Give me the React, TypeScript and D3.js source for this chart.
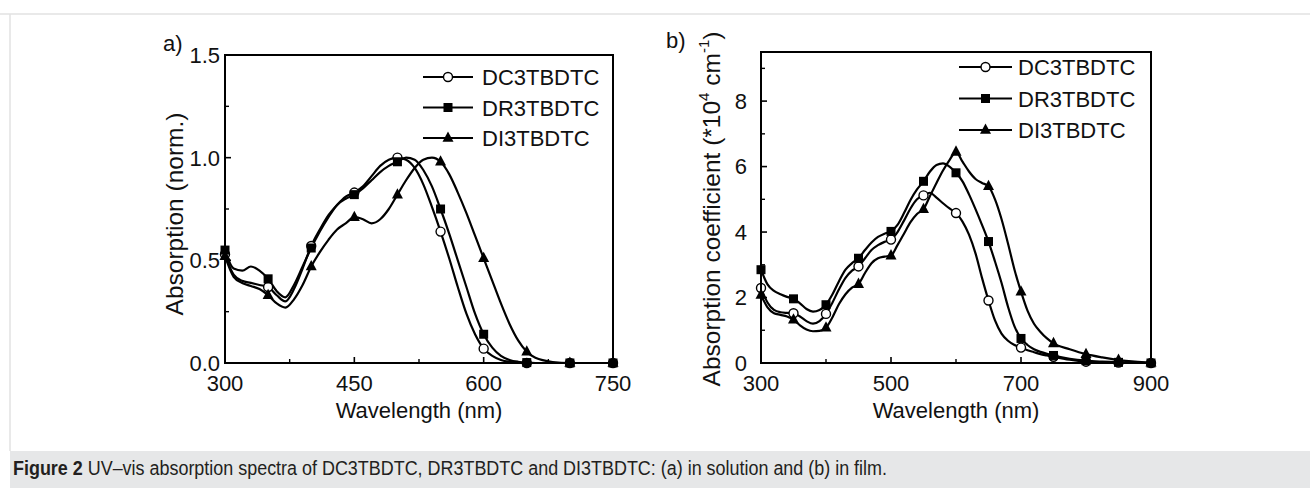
import React from "react";
import * as d3 from "d3";

// ---------- data: (a) solution ----------
const gridA = [300,310,320,330,340,350,360,370,380,390,400,410,420,430,440,450,460,470,480,490,500,510,520,530,540,550,560,570,580,590,600,610,620,630,640,650,660,680,700,725,750];
const dcA = [0.53,0.43,0.40,0.39,0.38,0.37,0.33,0.30,0.36,0.46,0.57,0.65,0.72,0.77,0.81,0.83,0.86,0.91,0.96,0.99,1.00,0.99,0.95,0.87,0.76,0.64,0.51,0.37,0.24,0.14,0.07,0.035,0.015,0.006,0.002,0,0,0,0,0,0];
const drA = [0.55,0.46,0.45,0.47,0.45,0.41,0.35,0.32,0.38,0.47,0.56,0.64,0.71,0.77,0.80,0.82,0.85,0.89,0.93,0.96,0.98,1.00,0.99,0.94,0.86,0.75,0.63,0.50,0.37,0.24,0.14,0.075,0.035,0.015,0.006,0.002,0,0,0,0,0];
const diA = [0.52,0.42,0.39,0.375,0.36,0.33,0.29,0.27,0.31,0.38,0.47,0.54,0.60,0.65,0.68,0.71,0.70,0.68,0.70,0.75,0.82,0.89,0.95,0.99,1.00,0.98,0.92,0.83,0.73,0.62,0.51,0.40,0.29,0.19,0.11,0.055,0.025,0.005,0,0,0];
const markersA = [300,350,400,450,500,550,600,650,700,750];
const xTicksA = [300,450,600,750];
const xMinorA = [375,525,675];
const yTicksA = [0,0.5,1.0,1.5];
const yMinorA = [0.25,0.75,1.25];

// ---------- data: (b) film ----------
const gridB = [300,310,320,330,340,350,360,370,380,390,400,410,420,430,440,450,460,470,480,490,500,510,520,530,540,550,560,570,580,590,600,610,620,630,640,650,660,670,680,690,700,710,720,730,740,750,775,800,825,850,875,900];
const dcB = [2.29,1.85,1.62,1.55,1.53,1.52,1.42,1.28,1.20,1.28,1.50,1.85,2.25,2.60,2.82,2.95,3.20,3.45,3.60,3.70,3.77,4.00,4.35,4.72,5.00,5.12,5.20,5.05,4.88,4.72,4.58,4.32,3.92,3.35,2.60,1.91,1.30,0.90,0.68,0.55,0.47,0.39,0.33,0.27,0.23,0.19,0.10,0.04,0.02,0.01,0,0];
const drB = [2.85,2.40,2.20,2.10,2.02,1.96,1.82,1.65,1.57,1.62,1.78,2.10,2.50,2.85,3.05,3.20,3.45,3.68,3.85,3.95,4.02,4.22,4.58,4.98,5.30,5.55,5.85,6.05,6.10,6.00,5.81,5.55,5.15,4.70,4.22,3.71,3.10,2.45,1.72,1.12,0.75,0.55,0.42,0.34,0.28,0.23,0.13,0.07,0.04,0.02,0.01,0];
const diB = [2.08,1.70,1.52,1.47,1.42,1.32,1.15,1.02,0.97,0.98,1.08,1.40,1.80,2.10,2.30,2.41,2.75,3.05,3.20,3.25,3.28,3.60,3.95,4.30,4.55,4.70,5.10,5.50,5.88,6.20,6.45,6.15,5.85,5.62,5.50,5.40,5.00,4.40,3.65,2.85,2.18,1.60,1.20,0.95,0.75,0.60,0.42,0.27,0.17,0.09,0.04,0.01];
const markersB = [300,350,400,450,500,550,600,650,700,750,800,850,900];
const xTicksB = [300,500,700,900];
const xMinorB = [400,600,800];
const yTicksB = [0,2,4,6,8];
const yMinorB = [1,3,5,7,9];

const seriesNames = ["DC3TBDTC", "DR3TBDTC", "DI3TBDTC"];
const seriesShapes = ["circle", "square", "triangle"];

const FONT = "'Liberation Sans', Arial, Helvetica, sans-serif";

function Marker({ shape, x, y }: { shape: string; x: number; y: number }) {
  if (shape === "circle")
    return <circle cx={x} cy={y} r={4.5} fill="#fff" stroke="#000" strokeWidth={1.4} />;
  if (shape === "square")
    return <rect x={x - 4.5} y={y - 4.5} width={9} height={9} fill="#000" />;
  return <path d={`M${x},${y - 6.5}L${x + 5.5},${y + 3.8}L${x - 5.5},${y + 3.8}Z`} fill="#000" />;
}

type PanelProps = {
  x: d3.ScaleLinear<number, number>;
  y: d3.ScaleLinear<number, number>;
  grid: number[];
  values: number[][];
  markers: number[];
  xTicks: number[];
  xMinor: number[];
  yTicks: number[];
  yMinor: number[];
  yFmt: (v: number) => string;
  yGap: number;
  legend: { x1: number; x2: number; tx: number; y0: number; step: number };
};

function Panel(p: PanelProps) {
  const [x0, x1] = p.x.range();
  const [y0, y1] = p.y.range();
  const line = d3
    .line<number>()
    .x((_, i) => p.x(p.grid[i]))
    .y((v) => p.y(v))
    .curve(d3.curveMonotoneX);
  return (
    <g>
      {p.values.map((vals, si) => (
        <path key={"l" + si} d={line(vals) || ""} fill="none" stroke="#000" strokeWidth={2.2} />
      ))}
      {p.values.map((vals, si) =>
        p.markers.map((m) => {
          const idx = p.grid.indexOf(m);
          return <Marker key={"m" + si + "-" + m} shape={seriesShapes[si]} x={p.x(m)} y={p.y(vals[idx])} />;
        })
      )}
      {/* frame */}
      <rect x={x0} y={y1} width={x1 - x0} height={y0 - y1} fill="none" stroke="#000" strokeWidth={2} />
      {/* x ticks */}
      {p.xTicks.map((t) => (
        <g key={"xt" + t}>
          <line x1={p.x(t)} x2={p.x(t)} y1={y0} y2={y0 - 6} stroke="#000" strokeWidth={1.6} />
          <text x={p.x(t)} y={391} textAnchor="middle" fontSize={22} fontFamily={FONT} fill="#111">
            {t}
          </text>
        </g>
      ))}
      {p.xMinor.map((t) => (
        <line key={"xm" + t} x1={p.x(t)} x2={p.x(t)} y1={y0} y2={y0 - 4} stroke="#000" strokeWidth={1.4} />
      ))}
      {p.yTicks.map((t) => (
        <g key={"yt" + t}>
          <line x1={x0} x2={x0 + 6} y1={p.y(t)} y2={p.y(t)} stroke="#000" strokeWidth={1.6} />
          <text x={x0 - p.yGap} y={p.y(t)} dy="0.36em" textAnchor="end" fontSize={22} fontFamily={FONT} fill="#111">
            {p.yFmt(t)}
          </text>
        </g>
      ))}
      {p.yMinor.map((t) => (
        <line key={"ym" + t} x1={x0} x2={x0 + 4} y1={p.y(t)} y2={p.y(t)} stroke="#000" strokeWidth={1.4} />
      ))}
      {/* legend */}
      {seriesNames.map((name, i) => {
        const ly = p.legend.y0 + i * p.legend.step;
        return (
          <g key={"lg" + name}>
            <line x1={p.legend.x1} x2={p.legend.x2} y1={ly} y2={ly} stroke="#000" strokeWidth={2} />
            <Marker shape={seriesShapes[i]} x={(p.legend.x1 + p.legend.x2) / 2} y={ly} />
            <text x={p.legend.tx} y={ly + 8} fontSize={22} fontFamily={FONT} fill="#111">
              {name}
            </text>
          </g>
        );
      })}
    </g>
  );
}

export default function App() {
  const xA = d3.scaleLinear().domain([300, 750]).range([225, 613]);
  const yA = d3.scaleLinear().domain([0, 1.5]).range([363, 55]);
  const xB = d3.scaleLinear().domain([300, 900]).range([761, 1151]);
  const yB = d3.scaleLinear().domain([0, 9.5]).range([363, 52]);
  const fmtA = d3.format(".1f");
  const fmtB = d3.format("d");

  return (
    <svg
      width={1310}
      height={488}
      style={{ position: "absolute", left: 0, top: 0, display: "block", background: "#fff" }}
    >
      <line x1={0} x2={1310} y1={14} y2={14} stroke="#e2e2e2" strokeWidth={1.5} />
      <line x1={10} x2={10} y1={14} y2={451} stroke="#e2e2e2" strokeWidth={1.5} />

      <Panel
        x={xA}
        y={yA}
        grid={gridA}
        values={[dcA, drA, diA]}
        markers={markersA}
        xTicks={xTicksA}
        xMinor={xMinorA}
        yTicks={yTicksA}
        yMinor={yMinorA}
        yFmt={fmtA}
        yGap={5}
        legend={{ x1: 423, x2: 473, tx: 482, y0: 77, step: 30.5 }}
      />
      <Panel
        x={xB}
        y={yB}
        grid={gridB}
        values={[dcB, drB, diB]}
        markers={markersB}
        xTicks={xTicksB}
        xMinor={xMinorB}
        yTicks={yTicksB}
        yMinor={yMinorB}
        yFmt={fmtB}
        yGap={14}
        legend={{ x1: 959, x2: 1012, tx: 1018, y0: 67, step: 31.5 }}
      />

      <text x={163} y={51} fontSize={22} fontFamily={FONT} fill="#111">a)</text>
      <text x={666} y={48} fontSize={22} fontFamily={FONT} fill="#111">b)</text>

      <text x={419} y={418} textAnchor="middle" fontSize={22} fontFamily={FONT} fill="#111">
        Wavelength (nm)
      </text>
      <text x={956} y={418} textAnchor="middle" fontSize={22} fontFamily={FONT} fill="#111">
        Wavelength (nm)
      </text>

      <text
        transform="translate(183,214) rotate(-90)"
        textAnchor="middle"
        fontSize={24.5}
        fontFamily={FONT}
        fill="#111"
      >
        Absorption (norm.)
      </text>
      <text
        transform="translate(720,209) rotate(-90)"
        textAnchor="middle"
        fontSize={24.5}
        fontFamily={FONT}
        fill="#111"
      >
        Absorption coefficient (*10
        <tspan fontSize={15} dy={-11}>4</tspan>
        <tspan dy={11}> cm</tspan>
        <tspan fontSize={15} dy={-11}>-1</tspan>
        <tspan dy={11}>)</tspan>
      </text>

      <rect x={10} y={451} width={1300} height={37} fill="#e6e7e8" />
      <text
        x={13}
        y={475}
        fontSize={19.5}
        fontFamily={FONT}
        fill="#231f20"
        textLength={874}
        lengthAdjust="spacingAndGlyphs"
      >
        <tspan fontWeight="bold">Figure 2</tspan>
        {" UV\u2013vis absorption spectra of DC3TBDTC, DR3TBDTC and DI3TBDTC: (a) in solution and (b) in film."}
      </text>
    </svg>
  );
}
